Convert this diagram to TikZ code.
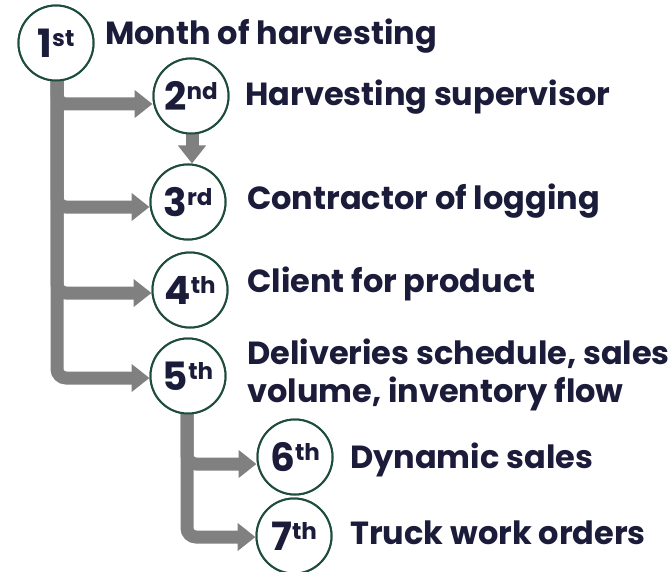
\documentclass[tikz,border=0pt]{standalone}
\usepackage{fontspec}
\setmainfont{Poppins}
\usetikzlibrary{arrows.meta}
\definecolor{navy}{HTML}{1B1B3A}
\definecolor{dgreen}{HTML}{1E4D3A}
\definecolor{agray}{HTML}{808080}
\newcommand\ordnum[2]{{\fontsize{39}{39}\selectfont #1\raisebox{11pt}{\fontsize{23}{23}\selectfont #2}}}
\begin{document}
\begin{tikzpicture}[x=1pt,y=-1pt,
  stepc/.style={circle, draw=dgreen, line width=2pt, minimum size=75pt, inner sep=0pt, fill=white, text=navy, font=\bfseries},
  lbl/.style={anchor=west, text=navy, font=\bfseries\fontsize{32}{38}\selectfont, inner sep=0pt, align=left},
  conn/.style={draw=agray, line width=13pt, rounded corners=9pt, -{Triangle[length=18pt,width=27pt]}},
]
\useasboundingbox (0,0) rectangle (671,572);
% circles (placed first for names)
\node[stepc] (c1) at (56,43) {\ordnum{1}{st}};
\node[stepc] (c2) at (191,96) {\ordnum{2}{nd}};
\node[stepc] (c3) at (188,202) {\ordnum{3}{rd}};
\node[stepc] (c4) at (190,290) {\ordnum{4}{th}};
\node[stepc] (c5) at (188,376) {\ordnum{5}{th}};
\node[stepc] (c6) at (295,457) {\ordnum{6}{th}};
\node[stepc] (c7) at (294,536) {\ordnum{7}{th}};
\coordinate (t1) at (57,80);
\coordinate (t2) at (187,412);
% connectors
\draw[conn] (t1) |- ([yshift=-8pt]c2.west);
\draw[conn] (t1) |- ([yshift=-5pt]c3.west);
\draw[conn] (t1) |- ([yshift=-3pt]c4.west);
\draw[conn] (t1) |- ([yshift=-2pt]c5.west);
\draw[conn] (t2) |- ([yshift=-7pt]c6.west);
\draw[conn] (t2) |- ([yshift=-1pt]c7.west);
\draw[conn] ([xshift=1pt]c2.south) -- ([xshift=4pt]c3.north);
% redraw circles on top
\foreach \n/\a/\b in {c1/1/st,c2/2/nd,c3/3/rd,c4/4/th,c5/5/th,c6/6/th,c7/7/th}{
  \node[stepc] at (\n) {\ordnum{\a}{\b}};
}
% labels
\node[lbl] (l1) at (105,36) {Month of harvesting};
\node[lbl] (l2) at (245,97) {Harvesting supervisor};
\node[lbl] (l3) at (247,201) {Contractor of logging};
\node[lbl] (l4) at (247,284) {Client for product};
\node[lbl] (l5) at (247,375) {Deliveries schedule, sales\\volume, inventory flow};
\node[lbl] (l6) at (350,460) {Dynamic sales};
\node[lbl] (l7) at (350,533) {Truck work orders};
\end{tikzpicture}
\end{document}
